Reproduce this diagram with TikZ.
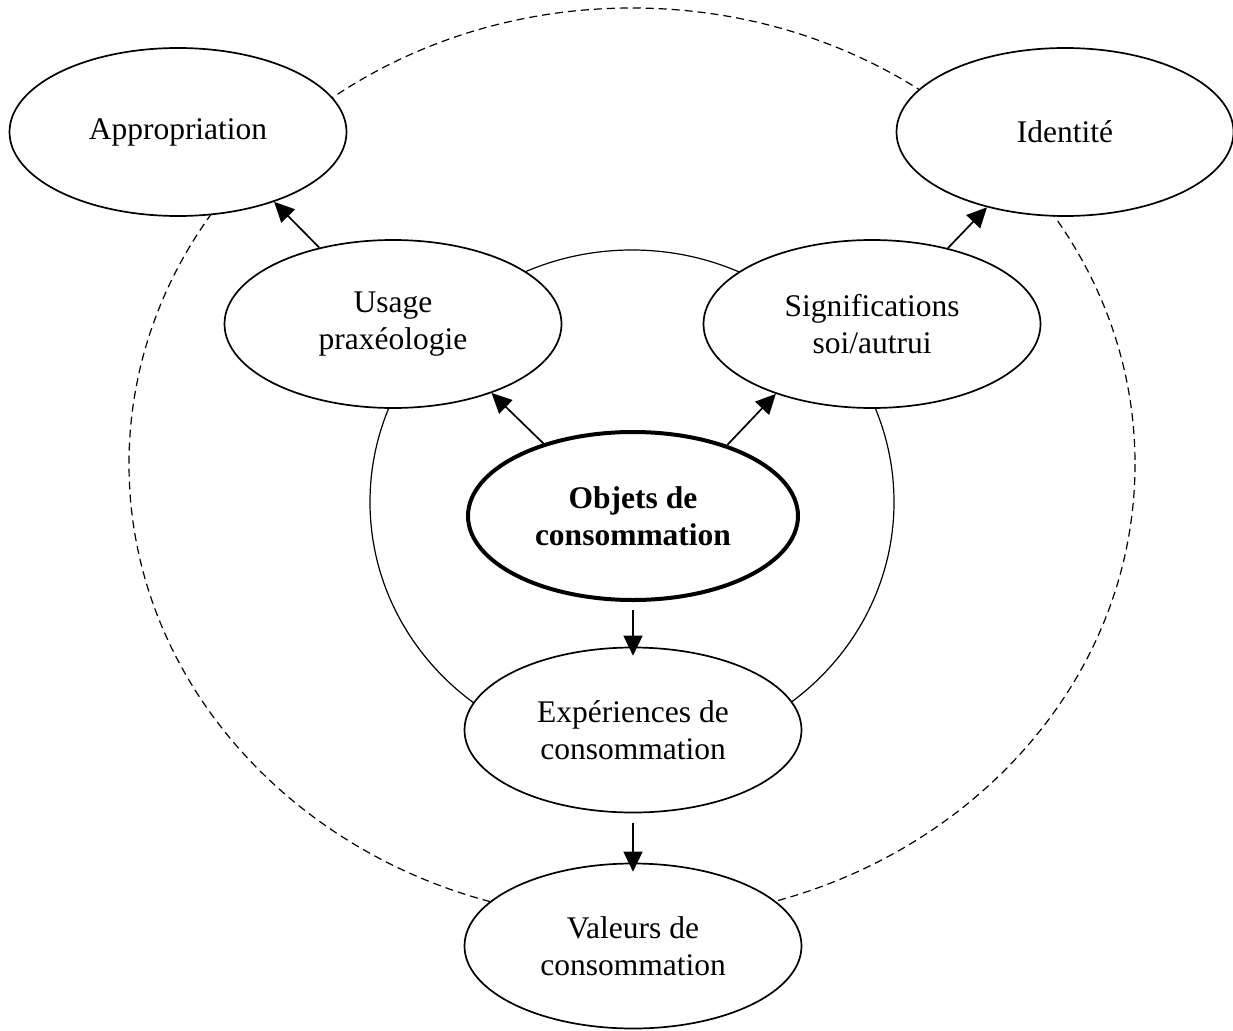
\documentclass[tikz,border=0pt]{standalone}
\usepackage{fontspec}
\setmainfont{Liberation Serif}
\usetikzlibrary{arrows.meta, shapes.geometric}

\tikzset{
    bubble/.style={ellipse, draw, line width=1.7pt, fill=white, minimum width=337pt, minimum height=168pt, inner sep=0pt, align=center, font=\fontsize{31.5}{37}\selectfont},
    core/.style={bubble, line width=4pt, minimum width=330pt, font=\fontsize{31.5}{37}\selectfont\bfseries},
    link/.style={-{Triangle[length=20pt, width=19pt]}, line width=1.7pt},
}

\begin{document}
\begin{tikzpicture}[x=1pt, y=-1pt]
    \useasboundingbox (0,0) rectangle (1233,1030);
    \draw[line width=1.2pt, dash pattern=on 8pt off 5pt] (632,464) ellipse [x radius=503, y radius=456];
    \draw[line width=1.2pt] (632,502) ellipse [x radius=262, y radius=252];

    \node[bubble] (approp) at (178,132) {Appropriation};
    \node[bubble] (ident) at (1065,132) {Identité};
    \node[bubble] (usage) at (393,324) {Usage\\praxéologie};
    \node[bubble] (signif) at (872,324) {Significations\\soi/autrui};
    \node[core] (objets) at (633,516) {Objets de\\consommation};
    \node[bubble, minimum height=165pt] (exper) at (633,730) {Expériences de\\consommation};
    \node[bubble, minimum height=165pt] (valeurs) at (633,946) {Valeurs de\\consommation};

    \draw[link] (objets.141) -- (usage.-35);
    \draw[link] (objets.37) -- (signif.-144);
    \draw[link] ([yshift=-8]objets.south) -- ([yshift=-9]exper.north);
    \draw[link] ([yshift=-10]exper.south) -- ([yshift=-9]valeurs.north);
    \draw[link] (usage.134) -- (approp.-36);
    \draw[link] (signif.45) -- (ident.-136);
\end{tikzpicture}
\end{document}
